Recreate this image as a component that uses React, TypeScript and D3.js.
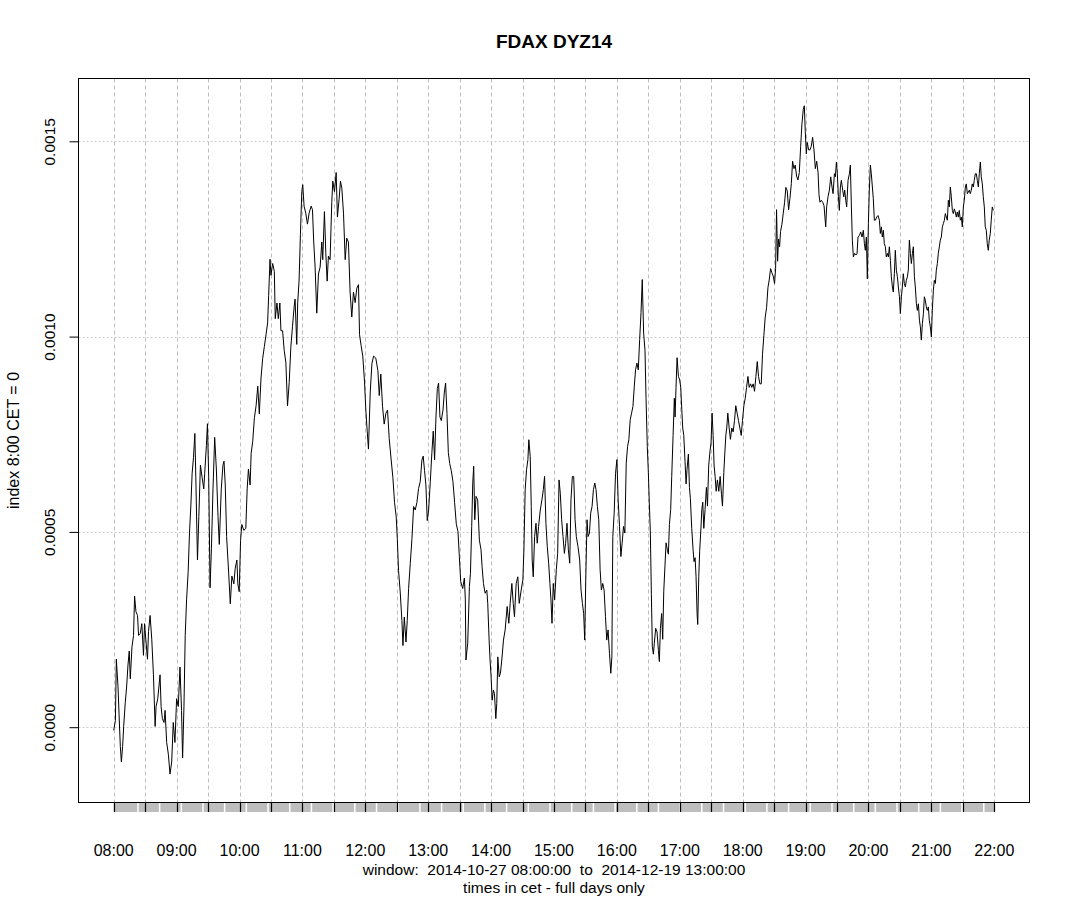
import * as d3 from 'd3';
import { useEffect, useRef } from 'react';

// minutes after 08:00 CET, index value in units of 1e-4
const series: [number, number][] = [
    [0, -0.08], [1.6, 0.17], [2.5, 1.74], [4.1, 1.03], [5.1, 0.32], [6.3, -0.49], [7.3, -0.89], [8.5, -0.49], [9.5, 0.02], [11, 0.63],
    [12.3, 1.03], [13.6, 1.59], [14.8, 1.95], [15.8, 1.24], [17.4, 2.05], [18.9, 2.35], [19.9, 3.36], [21.2, 2.96], [22.7, 2.86], [23.7, 2.35],
    [25.3, 2.4], [26.8, 2.65], [28.4, 1.84], [29.4, 2.65], [30.6, 2.25], [32.2, 1.74], [33.2, 2.45], [34.7, 2.86], [36.3, 2.25], [37.9, 1.34],
    [39.5, 0.02], [40.4, 0.53], [42, 0.73], [44.2, 1.34], [45.2, 0.53], [46.4, 0.22], [48, 0.12], [49, 0.43], [50.5, -0.39], [52.1, -0.69],
    [53.7, -1.2], [55.3, -0.89], [56.8, 0.12], [58.4, -0.39], [60, 0.73], [61.6, 0.53], [63.2, 1.54], [64.7, 0.43], [65.7, -0.79], [67, 0.53],
    [68.2, 2.35], [69.5, 3.26], [71, 3.97], [72.3, 4.98], [73.6, 5.69], [74.8, 6.5], [76.1, 6.91], [77.4, 7.52], [78.3, 6.4], [79.9, 4.28],
    [81.2, 5.39], [82.7, 6.71], [84.3, 6.4], [85.9, 6.1], [86.8, 6.5], [88.4, 7.21], [89.4, 7.77], [90.6, 6.4], [91.9, 3.57], [93.2, 4.58],
    [94.7, 6.1], [96.3, 7.42], [97.9, 6.61], [99.5, 5.39], [100.7, 4.68], [102.6, 6.1], [104.2, 6.71], [105.2, 6.81], [106.4, 6.2], [107.7, 4.88],
    [109.6, 3.97], [111.2, 3.16], [112.7, 3.87], [114.6, 3.67], [115.9, 4.07], [117.5, 4.28], [118.4, 3.67], [119.7, 3.47], [121, 4.78], [122.2, 5.19],
    [124.1, 5.04], [126, 5.09], [127.3, 6.1], [128.5, 6.61], [130.1, 6.2], [131.1, 7.01], [132.6, 7.32], [134.2, 7.92], [135.8, 8.23], [137.4, 8.73],
    [138.9, 8.02], [140.5, 8.94], [142.1, 9.44], [143.7, 9.75], [145.3, 10.05], [146.8, 10.35], [147.8, 11.06], [149.1, 11.98], [150, 11.57], [151.6, 11.87],
    [153.2, 11.67], [154.1, 10.46], [155.7, 10.86], [157, 10.46], [158.5, 10.86], [159.5, 10.15], [161.1, 10.15], [162.6, 9.65], [164.2, 9.34], [165.8, 8.23],
    [167.4, 8.83], [169, 9.75], [170.5, 10.25], [172.1, 10.76], [173, 10.96], [174.6, 9.8], [175.5, 10.87], [176.8, 11.42], [178.1, 12.61], [179.4, 13.71],
    [180.3, 13.89], [181.6, 13.34], [183.2, 13.16], [184.8, 12.88], [186.4, 13.16], [188.3, 13.34], [189.6, 13.25], [190.8, 12.42], [192.1, 11.78], [193.7, 10.6],
    [195.3, 11.6], [196.9, 11.78], [198.5, 12.42], [199.4, 11.97], [201, 13.2], [202.3, 12.15], [203.6, 11.42], [204.8, 12.06], [206.4, 11.97], [208, 13.43],
    [209, 13.98], [210.6, 13.71], [212.2, 14.2], [213.4, 13.06], [215, 13.52], [216.3, 13.98], [217.6, 13.8], [219.2, 13.16], [220.8, 11.97], [222.3, 12.52],
    [223.9, 12.42], [225.5, 11.14], [227.1, 10.5], [228.7, 11.14], [230.3, 10.87], [231.9, 11.24], [233.5, 11.33], [234.5, 10.05], [236, 9.77], [237.6, 9.5],
    [239.2, 8.86], [240.5, 8.12], [241.8, 7.58], [243, 7.12], [244.7, 8.58], [246.3, 9.31], [247.9, 9.5], [250, 9.45], [252, 9.13], [253.3, 8.49],
    [254.8, 9.04], [256.4, 8.22], [258, 7.76], [259.6, 8.03], [261.2, 8.12], [262.8, 7.39], [264.7, 6.84], [266.3, 6.39], [267.9, 5.75], [269.5, 5.38],
    [270.5, 4.83], [271.7, 4.01], [273.3, 3.46], [274.9, 2.73], [275.9, 2.09], [277.2, 2.82], [278.8, 2.18], [280, 2.73], [281.3, 3.55], [282.9, 4.19],
    [284.5, 4.83], [286.1, 5.65], [287.6, 5.56], [289.2, 5.75], [290.8, 6.11], [292.4, 6.29], [294, 6.84], [295.2, 6.94], [296.5, 6.57], [297.8, 6.2],
    [299.1, 5.29], [300.4, 5.56], [302, 6.29], [303.5, 7.03], [304.8, 7.58], [306.1, 6.84], [307.4, 7.94], [308.7, 8.67], [309.9, 8.81], [311.2, 7.94],
    [312.5, 7.85], [314.1, 8.12], [315.4, 8.58], [316.6, 8.81], [317.9, 8.03], [319.2, 7.03], [320.5, 6.75], [322, 6.57], [323.6, 6.29], [325.2, 5.75],
    [326.8, 5.2], [328.4, 5.01], [329.7, 4.37], [331, 3.73], [332.9, 3.55], [334.5, 3.82], [335.4, 3.28], [336, 1.72], [337.7, 2.15], [339.3, 3.6],
    [340.3, 3.94], [341.5, 5.14], [342.5, 6.25], [343.4, 6.68], [344.4, 5.31], [345.6, 5.91], [347.2, 5.82], [348.8, 4.79], [350.4, 4.54], [351.4, 4.11],
    [352.7, 3.68], [354.3, 3.43], [355.9, 3.51], [356.8, 3.17], [358.1, 2.23], [359, 1.72], [360, 1.29], [361, 0.69], [362.2, 0.95], [363.2, 0.86],
    [364.5, 0.22], [365.4, 0.61], [366.4, 1.8], [367.7, 1.29], [368.9, 1.38], [370.2, 1.72], [371.8, 2.23], [373.4, 2.49], [375.3, 3.09], [376.9, 2.66],
    [378.2, 3.17], [379.8, 3.68], [381.1, 3.17], [382.3, 2.83], [383.9, 3.68], [385.5, 3.85], [386.8, 3.17], [388.7, 3.51], [390.3, 3.77], [391.3, 4.54],
    [392.5, 6.08], [393.8, 6.59], [395.1, 6.85], [396, 7.36], [397.3, 6.93], [398.3, 5.65], [399.2, 4.28], [400.2, 3.85], [401.5, 4.88], [402.8, 5.22],
    [404, 4.71], [405.3, 5.14], [406.9, 5.56], [408.5, 5.82], [409.8, 6.08], [411, 6.42], [412.3, 5.22], [413.6, 4.62], [414.9, 4.2], [416.1, 3.68],
    [417.1, 3.26], [418.1, 2.66], [419.3, 3.68], [420.6, 3.26], [422.2, 4.03], [423.5, 4.45], [424.8, 6.33], [426, 5.99], [427.3, 5.31], [428.6, 4.88],
    [429.9, 4.45], [431.1, 4.71], [432.4, 5.22], [433.7, 4.54], [435, 4.2], [436.2, 5.82], [437.5, 6.42], [438.8, 6.42], [440.1, 5.31], [441.3, 4.88],
    [442.9, 4.62], [444.5, 4.28], [445.8, 3.51], [447.1, 3.17], [448.3, 2.91], [449.3, 2.23], [450.3, 3.77], [451.5, 5.31], [452.5, 4.88], [453.8, 4.97],
    [455, 5.48], [456.3, 5.65], [457.6, 6.08], [458.9, 6.25], [460.1, 6.08], [461.4, 5.65], [462.7, 5.31], [464, 4.03], [465.2, 3.51], [466.5, 3.68],
    [467.8, 3.51], [469.1, 2.83], [470.3, 2.23], [471.6, 2.49], [472.9, 1.89], [474.2, 1.38], [475.2, 1.8], [476.1, 4.88], [477.4, 5.48], [478.7, 6.5],
    [480, 6.85], [481.2, 5.82], [482.5, 5.14], [483.8, 4.37], [485, 4.71], [486.3, 5.14], [487.6, 4.97], [488.9, 6.76], [490.2, 7.19], [491.4, 7.36],
    [492.7, 7.87], [494, 8.04], [495.3, 8.21], [496.6, 8.73], [497.8, 9.15], [499.1, 9.32], [500.4, 9.15], [501.7, 9.92], [503, 10.61], [504.2, 11.46],
    [505.5, 10.09], [506.8, 9.65], [507.8, 8.42], [509, 7.18], [510, 6.52], [510.9, 5.76], [511.9, 5.0], [512.9, 3.39], [513.8, 2.06], [514.8, 1.87],
    [515.7, 2.15], [517, 2.53], [518.3, 2.44], [519.6, 1.96], [520.5, 1.68], [521.5, 2.53], [522.7, 2.91], [523.7, 2.25], [524.7, 3.48], [525.9, 4.15],
    [526.9, 4.72], [528.2, 4.53], [529.1, 4.43], [530.1, 5.19], [531.3, 5.57], [532.3, 6.42], [533.6, 7.47], [534.8, 8.42], [535.5, 7.94], [536.4, 8.7],
    [537.4, 9.46], [538.7, 8.98], [539.9, 8.89], [540.9, 8.7], [541.9, 8.13], [542.8, 7.66], [543.8, 7.47], [545, 6.8], [546, 6.23], [546.9, 6.6],
    [548.2, 6.99], [549.2, 6.14], [550.1, 5.85], [551.4, 5.09], [552.7, 4.53], [553.6, 4.24], [554.6, 4.34], [555.5, 3.86], [556.5, 2.91], [557.1, 2.63],
    [558.1, 3.86], [559, 4.53], [560, 5.0], [561, 5.57], [561.9, 5.76], [562.9, 5.09], [564.1, 5.57], [565.4, 6.14], [566.4, 5.66], [567.6, 6.71],
    [568.9, 7.09], [569.8, 7.28], [570.8, 8.04], [571.8, 7.47], [572.7, 6.71], [573.7, 6.42], [574.7, 6.04], [575.9, 6.33], [577.2, 6.04], [578.5, 6.42],
    [579.8, 5.95], [580.7, 5.66], [582, 6.52], [582.9, 6.99], [583.9, 7.47], [584.8, 7.66], [585.8, 8.04], [587.1, 7.66], [588.3, 7.37], [589.6, 7.66],
    [590.9, 7.56], [592.2, 7.85], [593.4, 8.23], [594.7, 8.04], [596, 7.85], [597.3, 7.66], [598.6, 7.47], [599.8, 7.85], [601.1, 8.23], [602.4, 8.42],
    [603.7, 8.7], [605, 8.98], [606.2, 8.7], [607.5, 8.79], [608.7, 8.7], [610, 8.79], [611.3, 8.6], [612.6, 8.98], [613.9, 9.36], [615.1, 8.98],
    [616.4, 8.79], [617.7, 8.79], [618.9, 9.55], [620.2, 10.03], [621.5, 10.5], [622.8, 10.74], [624.1, 11.26], [625.3, 11.45], [626.6, 11.74], [627.8, 11.64],
    [629.1, 11.55], [630.4, 11.36], [631.4, 11.74], [632.3, 13.25], [633.3, 11.93], [634.2, 12.5], [635.2, 12.3], [636.1, 12.69], [637.4, 12.87], [638.7, 13.16],
    [640, 13.44], [641.2, 13.82], [642.5, 13.73], [643.8, 13.25], [645.1, 13.54], [646.4, 13.92], [647.6, 14.49], [648.9, 14.3], [650.1, 14.39], [651.4, 14.11],
    [652.7, 14.01], [654, 14.2], [655.3, 14.87], [656.5, 15.44], [657.8, 15.82], [658.8, 15.91], [659.7, 15.25], [660.7, 14.68], [661.6, 14.97], [662.9, 14.78],
    [664.2, 14.78], [665.4, 14.87], [666.7, 15.1], [668, 14.78], [669.3, 14.3], [670.6, 14.49], [671.9, 14.2], [672.8, 13.63], [673.7, 13.44], [675, 13.49],
    [676.3, 13.44], [677.6, 13.35], [679.2, 12.81], [680.1, 13.32], [681.4, 13.58], [682.7, 13.75], [684, 14.09], [685.2, 13.83], [686.2, 13.66], [687.5, 14.17],
    [688.4, 14.09], [689.4, 14.47], [690.3, 14.17], [691.3, 13.58], [692.2, 13.23], [693.2, 13.83], [694.1, 14.0], [695.4, 13.75], [696.4, 13.58], [697.3, 13.75],
    [698.3, 13.49], [699.2, 13.32], [700.5, 14.0], [701.8, 14.17], [702.7, 14.39], [703.7, 13.32], [704.6, 12.47], [705.6, 12.04], [706.8, 12.13], [708.1, 12.09],
    [709.1, 12.13], [710, 12.55], [711.3, 12.59], [712.6, 12.68], [713.8, 12.55], [715.1, 12.72], [716.1, 12.38], [717, 12.21], [718, 12.55], [718.9, 11.48],
    [719.9, 12.89], [720.8, 13.75], [721.8, 14.39], [722.7, 14.17], [723.7, 13.83], [724.6, 13.53], [725.6, 12.98], [726.6, 12.98], [727.8, 13.06], [729.1, 13.1],
    [730.4, 12.98], [731.3, 12.64], [732.3, 12.81], [733.2, 12.55], [734.2, 12.72], [735.1, 12.38], [736.1, 12.3], [737, 12.04], [738, 12.13], [739, 12.04],
    [739.9, 12.3], [740.9, 11.95], [741.8, 11.53], [742.8, 11.27], [743.7, 11.14], [744.7, 11.61], [745.6, 12.21], [746.6, 11.7], [747.6, 11.53], [748.5, 11.27],
    [749.5, 11.02], [750.4, 10.59], [751.4, 11.02], [752.3, 11.27], [753.2, 11.61], [754.2, 11.36], [755.2, 11.27], [756.1, 11.44], [757.1, 11.53], [758, 11.7],
    [759, 12.47], [760, 12.13], [760.9, 11.87], [761.9, 12.13], [762.8, 12.3], [763.8, 11.53], [764.7, 11.27], [765.7, 10.84], [766.6, 10.67], [767.6, 10.84],
    [768.6, 10.42], [769.5, 10.25], [770.4, 9.91], [771.4, 10.33], [772.4, 10.59], [773.3, 11.02], [774.2, 10.93], [775.2, 10.76], [776.1, 10.67], [777.1, 10.76],
    [778, 10.42], [779, 10.25], [780, 9.99], [780.9, 10.67], [781.9, 11.19], [782.8, 11.44], [783.8, 11.36], [784.7, 11.7], [785.7, 11.87], [786.6, 12.13],
    [787.6, 12.3], [788.5, 12.47], [789.5, 12.55], [790.5, 12.81], [791.4, 12.89], [792.4, 12.98], [793.3, 13.15], [794.3, 13.06], [795.2, 12.98], [796.2, 13.49],
    [797.1, 13.32], [798.1, 13.83], [799, 13.58], [800, 13.23], [800.9, 13.15], [801.9, 13.27], [802.8, 13.19], [803.8, 13.06], [804.7, 13.19], [805.7, 13.06],
    [806.6, 13.23], [807.6, 12.98], [808.6, 13.06], [809.5, 12.81], [810.5, 13.32], [811.4, 13.49], [812.4, 13.83], [813.3, 13.91], [814.3, 13.66], [815.2, 13.7],
    [816.2, 13.75], [817.1, 13.66], [818.1, 13.75], [819, 13.91], [820, 13.83], [820.9, 14.0], [821.9, 14.17], [822.9, 14.17], [823.8, 14.0], [824.8, 13.83],
    [825.7, 14.17], [826.7, 14.47], [827.6, 14.09], [828.6, 13.91], [829.5, 13.58], [830.5, 13.32], [831.4, 12.81], [832.4, 12.72], [833.3, 12.38], [834.3, 12.21],
    [835.2, 12.47], [836.2, 12.64], [837.1, 12.98], [838.1, 13.32], [839.1, 13.23]
];

const hourLabels = ["08:00", "09:00", "10:00", "11:00", "12:00", "13:00", "14:00", "15:00",
    "16:00", "17:00", "18:00", "19:00", "20:00", "21:00", "22:00"];
const halfHourTicks = [0, 30, 60, 90, 120, 150, 180, 210, 240, 270, 300, 330, 360, 390, 420,
    450, 480, 510, 540, 570, 600, 630, 660, 690, 720, 750, 780, 810, 840];
const yTicks = [0, 0.0005, 0.001, 0.0015];
const yTickLabels = ["0.0000", "0.0005", "0.0010", "0.0015"];
// white separators in the grey strip under the plot (minutes after 08:00)
const stripGaps = [23.1, 43.8, 64.5, 85.2, 105.8, 126.5, 147.2, 167.9, 188.6, 209.3, 230, 250.7,
    271.4, 292.1, 312.8, 333.4, 354.1, 374.8, 395.5, 416.2, 436.9, 457.6, 478.3, 499, 519.6, 540.3,
    561, 581.7, 602.4, 623.1, 643.8, 664.5, 685.2, 705.9, 726.5, 747.2, 767.9, 788.6, 809.3, 830];

const title = "FDAX DYZ14";
const yTitle = "index 8:00 CET = 0";
const subLine1 = "window:  2014-10-27 08:00:00  to  2014-12-19 13:00:00";
const subLine2 = "times in cet - full days only";

const FONT = "'Liberation Sans', Arial, sans-serif";

const App = () => {
    const ref = useRef<SVGSVGElement>(null);
    useEffect(() => {
        DrawChart()
    }, []);
    const DrawChart = () => {
        const box = { left: 78.5, right: 1029.5, top: 78.5, bottom: 802.5 };
        const svg = d3.select(ref.current);
        svg.selectAll("*").remove();

        const x: any = d3.scaleLinear().domain([-33.6, 873.6]).range([box.left, box.right]);
        const y: any = d3.scaleLinear().domain([-0.0001928, 0.0016608]).range([box.bottom, box.top]);

        // grid
        svg.append("g").selectAll("line").data(halfHourTicks).enter().append("line")
            .attr("x1", (d: number) => Math.round(x(d)) + 0.5)
            .attr("x2", (d: number) => Math.round(x(d)) + 0.5)
            .attr("y1", box.top).attr("y2", box.bottom)
            .attr("stroke", "#bdbdbd").attr("stroke-dasharray", "4,3");
        svg.append("g").selectAll("line").data(yTicks).enter().append("line")
            .attr("x1", box.left).attr("x2", box.right)
            .attr("y1", (d: number) => Math.round(y(d)) + 0.5)
            .attr("y2", (d: number) => Math.round(y(d)) + 0.5)
            .attr("stroke", "#cccccc").attr("stroke-dasharray", "2,2");

        // grey strip with separators and half hour ticks
        const strip = svg.append("g");
        strip.append("rect")
            .attr("x", x(0)).attr("y", box.bottom)
            .attr("width", x(840) - x(0)).attr("height", 9.5)
            .attr("fill", "#bebebe");
        strip.selectAll(".gap").data(stripGaps).enter().append("line")
            .attr("class", "gap")
            .attr("x1", (d: number) => x(d)).attr("x2", (d: number) => x(d))
            .attr("y1", box.bottom).attr("y2", box.bottom + 9.5)
            .attr("stroke", "#fff").attr("stroke-width", 1.5);
        strip.selectAll(".tk").data(halfHourTicks).enter().append("line")
            .attr("class", "tk")
            .attr("x1", (d: number) => Math.round(x(d)) + 0.5)
            .attr("x2", (d: number) => Math.round(x(d)) + 0.5)
            .attr("y1", box.bottom).attr("y2", box.bottom + 9.5)
            .attr("stroke", "#000").attr("stroke-width", 1.2);

        // the series
        const line = d3.line<[number, number]>()
            .x(d => x(d[0]))
            .y(d => y(d[1] * 1e-4));
        svg.append("path")
            .datum(series)
            .attr("d", line)
            .attr("fill", "none")
            .attr("stroke", "#000")
            .attr("stroke-width", 1);

        // plot box
        svg.append("rect")
            .attr("x", box.left).attr("y", box.top)
            .attr("width", box.right - box.left).attr("height", box.bottom - box.top)
            .attr("fill", "none").attr("stroke", "#000");

        // y axis
        const yAxis = svg.append("g")
            .attr("transform", "translate(" + box.left + ",0)")
            .call(d3.axisLeft(y).tickValues(yTicks).tickSize(9)
                .tickFormat((_d: any, i: number) => yTickLabels[i]));
        yAxis.select(".domain").remove();
        yAxis.attr("font-family", FONT).attr("font-size", 15.5);
        yAxis.selectAll("line").attr("stroke", "#000");
        yAxis.selectAll("text")
            .attr("x", null).attr("dy", null)
            .attr("fill", "#000")
            .attr("text-anchor", "middle")
            .attr("transform", "translate(-24,0) rotate(-90)");

        // x labels
        svg.append("g").selectAll("text").data(hourLabels).enter().append("text")
            .attr("x", (_d: string, i: number) => x(i * 60))
            .attr("y", 856)
            .attr("text-anchor", "middle")
            .style("font-family", FONT).style("font-size", "16px")
            .text((d: string) => d);

        // titles
        svg.append("text")
            .attr("x", (box.left + box.right) / 2).attr("y", 47.5)
            .attr("text-anchor", "middle")
            .style("font-family", FONT).style("font-size", "19px").style("font-weight", "bold")
            .text(title);
        svg.append("text")
            .attr("x", (box.left + box.right) / 2).attr("y", 875)
            .attr("text-anchor", "middle")
            .style("font-family", FONT).style("font-size", "15.5px").style("white-space", "pre")
            .text(subLine1);
        svg.append("text")
            .attr("x", (box.left + box.right) / 2).attr("y", 893)
            .attr("text-anchor", "middle")
            .style("font-family", FONT).style("font-size", "15.5px")
            .text(subLine2);
        svg.append("text")
            .attr("text-anchor", "middle")
            .style("font-family", FONT).style("font-size", "16px")
            .attr("transform", "translate(18.5," + (box.top + box.bottom) / 2 + ") rotate(-90)")
            .text(yTitle);
    }
    return (
        <svg ref={ref} width={1070} height={900}
            style={{ position: "absolute", left: 0, top: 0, background: "#fff" }} />
    )
}
export default App;
